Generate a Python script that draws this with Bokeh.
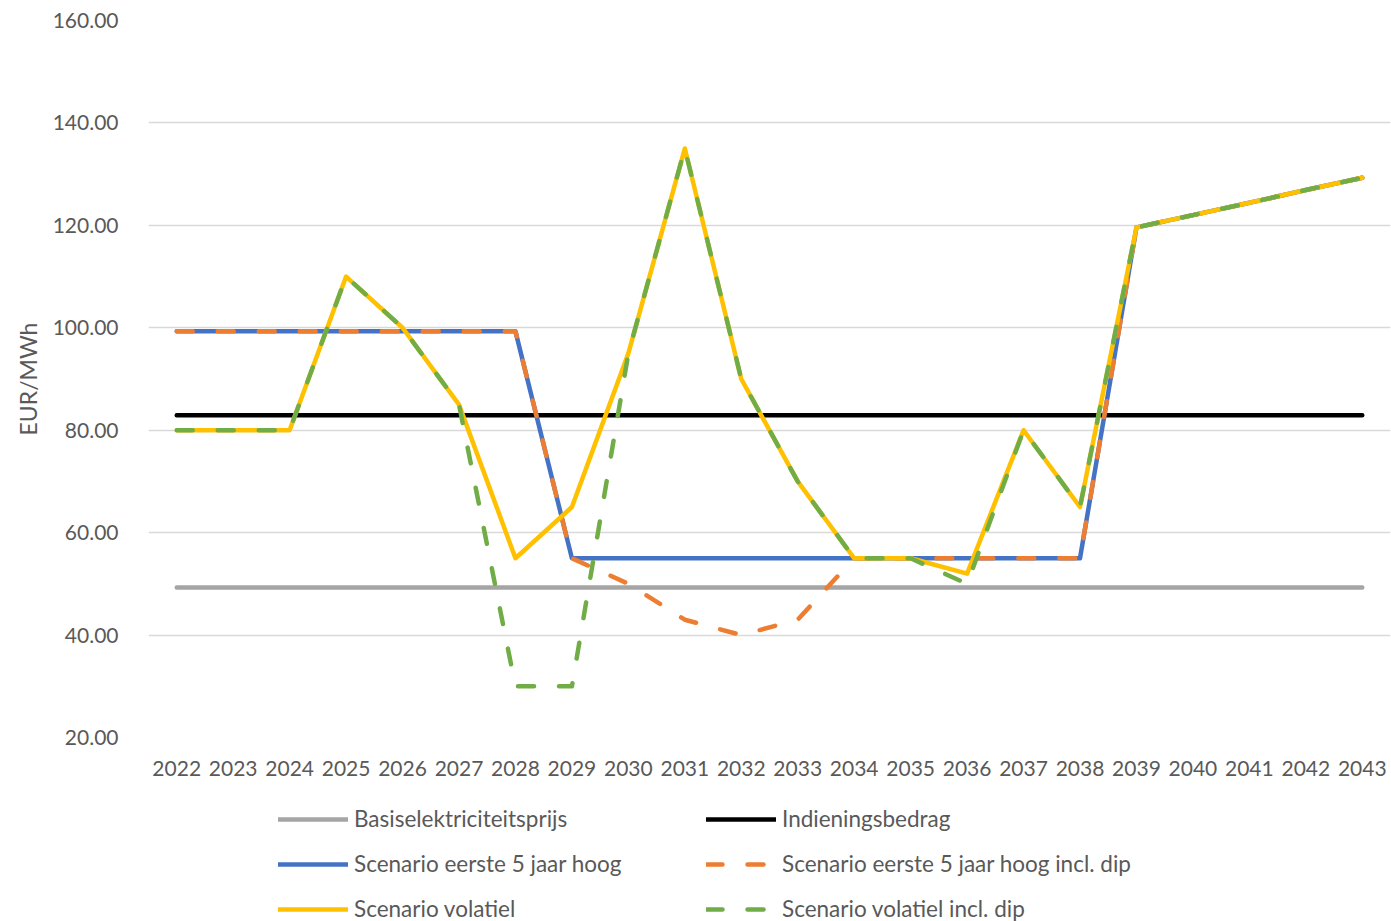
from bokeh.plotting import figure
from bokeh.layouts import column
from bokeh.models import FactorRange, Range1d, NumeralTickFormatter, Legend, LegendItem, FixedTicker
from bokeh.embed import file_html
from bokeh.resources import INLINE

years = ["2022", "2023", "2024", "2025", "2026", "2027", "2028", "2029", "2030", "2031", "2032",
         "2033", "2034", "2035", "2036", "2037", "2038", "2039", "2040", "2041", "2042", "2043"]

basis = [49.3, 49.3, 49.3, 49.3, 49.3, 49.3, 49.3, 49.3, 49.3, 49.3, 49.3,
         49.3, 49.3, 49.3, 49.3, 49.3, 49.3, 49.3, 49.3, 49.3, 49.3, 49.3]
indiening = [82.9, 82.9, 82.9, 82.9, 82.9, 82.9, 82.9, 82.9, 82.9, 82.9, 82.9,
             82.9, 82.9, 82.9, 82.9, 82.9, 82.9, 82.9, 82.9, 82.9, 82.9, 82.9]
hoog = [99.3, 99.3, 99.3, 99.3, 99.3, 99.3, 99.3, 55.0, 55.0, 55.0, 55.0,
        55.0, 55.0, 55.0, 55.0, 55.0, 55.0, 119.6, 122.0, 124.4, 126.9, 129.3]
hoog_dip = [99.3, 99.3, 99.3, 99.3, 99.3, 99.3, 99.3, 55.0, 50.0, 43.0, 40.0,
            43.0, 55.0, 55.0, 55.0, 55.0, 55.0, 119.6, 122.0, 124.4, 126.9, 129.3]
volatiel = [80.0, 80.0, 80.0, 110.0, 100.0, 85.0, 55.0, 65.0, 95.0, 135.0, 90.0,
            70.0, 55.0, 55.0, 52.0, 80.0, 65.0, 119.6, 122.0, 124.4, 126.9, 129.3]
volatiel_dip = [80.0, 80.0, 80.0, 110.0, 100.0, 85.0, 30.0, 30.0, 95.0, 135.0, 90.0,
                70.0, 55.0, 55.0, 50.0, 80.0, 65.0, 119.6, 122.0, 124.4, 126.9, 129.3]

series_labels = ["Basiselektriciteitsprijs", "Indieningsbedrag", "Scenario eerste 5 jaar hoog",
                 "Scenario eerste 5 jaar hoog incl. dip", "Scenario volatiel",
                 "Scenario volatiel incl. dip"]

y_ticks = [20, 40, 60, 80, 100, 120, 140, 160]

FONT = "Lato"
TXT = "#595959"
W = 4.5
DASH = "16 25"
styles = [
    dict(line_color="#A5A5A5", line_width=W, line_cap="round"),
    dict(line_color="#000000", line_width=W, line_cap="round"),
    dict(line_color="#4472C4", line_width=W, line_cap="round", line_join="round"),
    dict(line_color="#ED7D31", line_width=W, line_dash=DASH, line_cap="round", line_join="round"),
    dict(line_color="#FFC000", line_width=W, line_cap="round", line_join="round"),
    dict(line_color="#70AD47", line_width=W, line_dash=DASH, line_cap="round", line_join="round"),
]
series = [basis, indiening, hoog, hoog_dip, volatiel, volatiel_dip]

p = figure(width=1391, height=787, x_range=FactorRange(*years), y_range=Range1d(20, 160),
           output_backend="svg", toolbar_location=None,
           min_border_left=148, min_border_right=1, min_border_top=20, min_border_bottom=50)

p.outline_line_color = None
p.xgrid.grid_line_color = None
p.ygrid.grid_line_color = "#D9D9D9"
p.ygrid.grid_line_width = 1.5

p.yaxis.ticker = FixedTicker(ticks=y_ticks)
p.yaxis.formatter = NumeralTickFormatter(format="0.00")
p.yaxis.axis_line_color = None
p.yaxis.major_tick_line_color = None
p.yaxis.minor_tick_line_color = None
p.yaxis.major_label_standoff = 24
p.yaxis.major_label_text_font = FONT
p.yaxis.major_label_text_font_size = "21px"
p.yaxis.major_label_text_color = TXT
p.yaxis.axis_label = "EUR/MWh"
p.yaxis.axis_label_text_font = FONT
p.yaxis.axis_label_text_font_size = "23px"
p.yaxis.axis_label_text_font_style = "normal"
p.yaxis.axis_label_text_color = TXT
p.yaxis.axis_label_standoff = 8

p.xaxis.axis_line_color = None
p.xaxis.major_tick_line_color = None
p.xaxis.minor_tick_line_color = None
p.xaxis.major_label_standoff = 17
p.xaxis.major_label_text_font = FONT
p.xaxis.major_label_text_font_size = "21px"
p.xaxis.major_label_text_color = TXT

for vals, st in zip(series, styles):
    p.line(years, vals, **st)

# legend panel below the chart (its own lines lie outside its visible y range)
lg = figure(width=1391, height=134, x_range=FactorRange(*years), y_range=Range1d(1000, 1001),
            output_backend="svg", toolbar_location=None,
            min_border_left=148, min_border_right=1, min_border_top=0, min_border_bottom=0)
lg.outline_line_color = None
lg.axis.visible = False
lg.grid.visible = False

items = []
for lab, vals, st in zip(series_labels, series, styles):
    r = lg.line(years, vals, **st)
    items.append(LegendItem(label=lab, renderers=[r]))

legend = Legend(items=items, ncols=2, orientation="horizontal", location=(130, -1))
legend.padding = 0
legend.margin = 0
legend.spacing = 18
legend.glyph_width = 70
legend.glyph_height = 20
legend.label_height = 20
legend.label_width = 334
legend.label_standoff = 6
legend.label_text_font = FONT
legend.label_text_font_size = "22.5px"
legend.label_text_color = TXT
legend.background_fill_alpha = 0
legend.border_line_alpha = 0
lg.add_layout(legend, "center")

layout = column(p, lg, spacing=0)
open("out.html", "w").write(file_html(layout, INLINE))
